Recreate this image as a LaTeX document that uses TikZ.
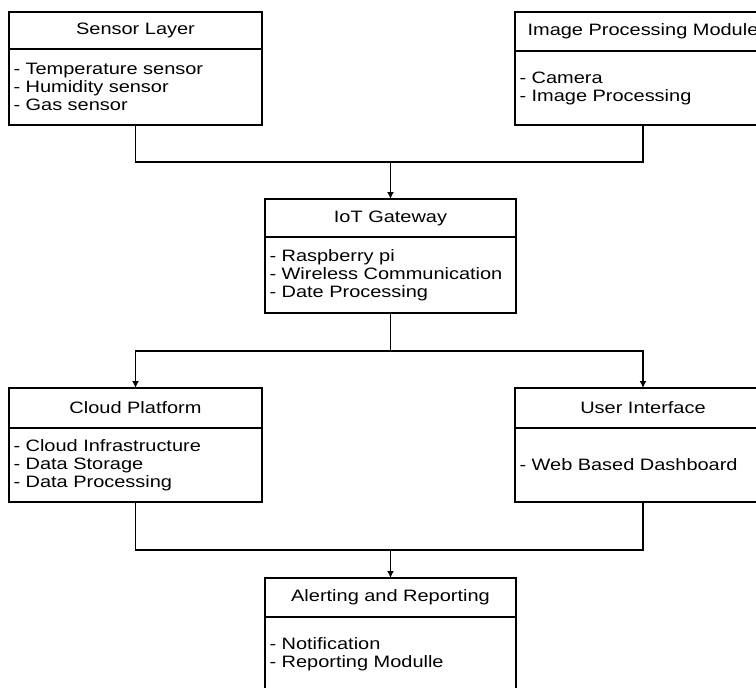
\documentclass[tikz,border=0pt]{standalone}
\usepackage{fontspec}
\setmainfont[FakeStretch=1.21]{Liberation Sans}
\usetikzlibrary{arrows.meta}
\begin{document}
\begin{tikzpicture}[x=1pt,y=-1pt,
  box/.style={draw, line width=1.5pt, anchor=north west, inner xsep=4.5pt, inner ysep=0pt, outer sep=0pt,
    font=\fontsize{16.5}{18}\selectfont},
  ttl/.style={box, align=center},
  bdy/.style={box, align=left},
  conn/.style={line width=1.6pt},
  arr/.style={conn, -{Latex[length=7pt,width=7pt]}}]
\useasboundingbox (0,0) rectangle (756,688);
\clip (0,0) rectangle (756,688);
% Sensor Layer
\node[ttl, minimum width=253pt, minimum height=37pt] (st) at (9,12) {Sensor Layer};
\node[bdy, text width=244pt, minimum height=76pt] (sb) at (st.south west) {- Temperature sensor\\- Humidity sensor\\- Gas sensor};
% Image Processing Module
\node[ttl, minimum width=256pt, minimum height=39pt] (it) at (515,12) {Image Processing Module};
\node[bdy, text width=247pt, minimum height=74pt] (ib) at (it.south west) {- Camera\\- Image Processing};
% IoT Gateway
\node[ttl, minimum width=251pt, minimum height=38pt] (gt) at (265,199) {IoT Gateway};
\node[bdy, text width=242pt, minimum height=76pt] (gb) at (gt.south west) {- Raspberry pi\\- Wireless Communication\\- Date Processing};
% Cloud Platform
\node[ttl, minimum width=253pt, minimum height=40pt] (ct) at (9,388) {Cloud Platform};
\node[bdy, text width=244pt, minimum height=74pt] (cb) at (ct.south west) {- Cloud Infrastructure\\- Data Storage\\- Data Processing};
% User Interface
\node[ttl, minimum width=256pt, minimum height=40pt] (ut) at (515,388) {User Interface};
\node[bdy, text width=247pt, minimum height=74pt] (ub) at (ut.south west) {- Web Based Dashboard};
% Alerting and Reporting
\node[ttl, minimum width=251pt, minimum height=39pt] (at) at (265,578) {Alerting and Reporting};
\node[bdy, text width=242pt, minimum height=74pt] (ab) at (at.south west) {- Notification\\- Reporting Modulle};
% junctions
\coordinate (m1) at (390.5,162);
\coordinate (m2) at (390.5,351);
\coordinate (m3) at (390.5,550);
% connectors
\draw[conn] (sb.south) |- (m1) -| (ib.south);
\draw[arr] (m1) -- (gt.north);
\draw[conn] (gb.south) -- (m2);
\draw[arr] (m2) -| (ct.north);
\draw[arr] (m2) -| (ut.north);
\draw[conn] (cb.south) |- (m3) -| (ub.south);
\draw[arr] (m3) -- (at.north);
\end{tikzpicture}
\end{document}
